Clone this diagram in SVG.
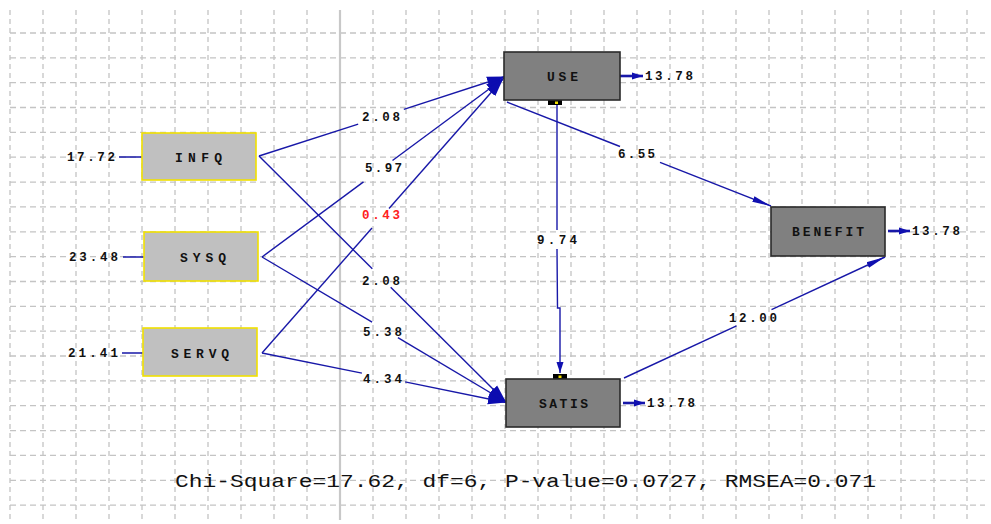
<svg xmlns="http://www.w3.org/2000/svg" width="991" height="524" viewBox="0 0 991 524">
<defs>
<style>
.gh{stroke:#c4c4c4;stroke-width:1.3;stroke-dasharray:6 4;fill:none}
.gv{stroke:#c4c4c4;stroke-width:1.3;stroke-dasharray:5 4;fill:none}
.ln{stroke:#1818a8;stroke-width:1.4;fill:none}
.er{stroke:#1818a8;stroke-width:2.6;fill:none}
.num{font-family:"Liberation Mono","DejaVu Sans Mono",monospace;font-size:12.5px;fill:#111;font-weight:bold}
.nm{font-family:"Liberation Mono","DejaVu Sans Mono",monospace;font-size:13px;font-weight:bold;fill:#111}
.ex{fill:#c0c0c0;stroke:#f0e000;stroke-width:1.6}
.en{fill:#808080;stroke:#2a2a2a;stroke-width:1.6}
</style>
<marker id="ah" markerUnits="userSpaceOnUse" markerWidth="19" markerHeight="13" refX="18" refY="6.5" orient="auto"><path d="M0,1 L18,6.5 L0,12 z" fill="#0c0cb0"/></marker>
<marker id="ah2" markerUnits="userSpaceOnUse" markerWidth="20" markerHeight="8" refX="19" refY="4" orient="auto"><path d="M0,1 L19,4 L0,7 z" fill="#1010b0"/></marker>
<marker id="ah3" markerUnits="userSpaceOnUse" markerWidth="12" markerHeight="10" refX="11" refY="5" orient="auto"><path d="M0,1.5 L11,5 L0,8.5 z" fill="#1010b0"/></marker>
</defs>
<rect width="991" height="524" fill="#ffffff"/>
<g id="grid">
<path class="gh" d="M10,33H985M10,57.8H985M10,82.7H985M10,107.5H985M10,132.4H985M10,157.2H985M10,182.1H985M10,206.9H985M10,231.8H985M10,256.6H985M10,281.5H985M10,306.3H985M10,331.2H985M10,356H985M10,380.9H985M10,405.7H985M10,430.6H985M10,455.4H985M10,480.3H985M10,505.1H985"/>
<path class="gv" d="M10,10V520M43,10V520M76,10V520M109,10V520M142,10V520M175,10V520M208,10V520M241,10V520M274,10V520M307,10V520M373,10V520M406,10V520M439,10V520M472,10V520M505,10V520M538,10V520M571,10V520M604,10V520M637,10V520M670,10V520M703,10V520M736,10V520M769,10V520M802,10V520M835,10V520M868,10V520M901,10V520M934,10V520M967,10V520"/>
<path d="M340,10V520" stroke="#c8c8c8" stroke-width="2.2" fill="none"/>
</g>
<g id="connectors">
<path class="ln" d="M259,156L358.2,124.1"/><path class="ln" d="M403.8,109.3L505,76.5" marker-end="url(#ah)"/>
<path class="ln" d="M262,257L363.5,181.9"/><path class="ln" d="M392.5,160.5L504,78" marker-end="url(#ah)"/>
<path class="ln" d="M262,353L372,228"/><path class="ln" d="M389,208.5L503,79" marker-end="url(#ah)"/>
<path class="ln" d="M259,156L372.3,268.8"/><path class="ln" d="M390.7,287.2L506,402" marker-end="url(#ah)"/>
<path class="ln" d="M262,257L372.1,322.2"/><path class="ln" d="M397.9,337.6L506,402" marker-end="url(#ah)"/>
<path class="ln" d="M262,353L361.9,373.1"/><path class="ln" d="M405.1,381.9L506,402.5" marker-end="url(#ah)"/>
<path class="ln" d="M507,102L620,146.5"/><path class="ln" d="M660,162.3L771,206" marker-end="url(#ah2)"/>
<path class="ln" d="M557,105L557,230"/><path class="ln" d="M557,249L557.5,308L560,308L560,373" marker-end="url(#ah3)"/>
<path class="ln" d="M624,378L736.5,325.8"/><path class="ln" d="M771.5,309.6L885,257" marker-end="url(#ah2)"/>
<path class="ln" d="M119,157H142M123,257H144M122,353H143"/>
<path class="er" d="M620,76H643" marker-end="url(#ah3)"/>
<path class="er" d="M888,231H910" marker-end="url(#ah3)"/>
<path class="er" d="M623,403H645" marker-end="url(#ah3)"/>
<rect x="548" y="100" width="14" height="5" fill="#000"/><rect x="555" y="101.5" width="3" height="2.5" fill="#f0e000"/>
<rect x="553" y="374" width="14" height="5" fill="#000"/><rect x="558.5" y="375.5" width="3" height="2.5" fill="#f0e000"/>
</g>
<g id="labels">
<text class="num" x="362" y="121" textLength="38">2.08</text>
<text class="num" x="365" y="172" textLength="37">5.97</text>
<text class="num" x="362" y="219" textLength="38" style="fill:#ff2020">0.43</text>
<text class="num" x="362" y="285" textLength="38">2.08</text>
<text class="num" x="363" y="336" textLength="39">5.38</text>
<text class="num" x="363" y="383" textLength="39">4.34</text>
<text class="num" x="618" y="158" textLength="37">6.55</text>
<text class="num" x="537" y="244" textLength="40">9.74</text>
<text class="num" x="729" y="322" textLength="48">12.00</text>
<text class="num" x="67" y="161" textLength="48">17.72</text>
<text class="num" x="69" y="261" textLength="49">23.48</text>
<text class="num" x="68" y="357" textLength="50">21.41</text>
<text class="num" x="645" y="80" textLength="48">13.78</text>
<text class="num" x="912" y="235" textLength="48">13.78</text>
<text class="num" x="647" y="407" textLength="48">13.78</text>
</g>
<g id="INFQ"><rect class="ex" x="142" y="133" width="114" height="47"/><text class="nm" x="175" y="162" textLength="47">INFQ</text></g>
<g id="SYSQ"><rect class="ex" x="144" y="232" width="114" height="49"/><text class="nm" x="180" y="261.5" textLength="46">SYSQ</text></g>
<g id="SERVQ"><rect class="ex" x="143" y="328" width="114" height="48"/><text class="nm" x="171" y="357.5" textLength="58">SERVQ</text></g>
<g id="USE"><rect class="en" x="504" y="52" width="116" height="48"/><text class="nm" x="547" y="81" textLength="31">USE</text></g>
<g id="BENEFIT"><rect class="en" x="771" y="207" width="114" height="49"/><text class="nm" x="792" y="236" textLength="72">BENEFIT</text></g>
<g id="SATIS"><rect class="en" x="506" y="379" width="114" height="48"/><text class="nm" x="539" y="408" textLength="49">SATIS</text></g>
<text x="175" y="487" textLength="701" lengthAdjust="spacingAndGlyphs" font-family="Liberation Mono, DejaVu Sans Mono, monospace" font-size="18" fill="#111">Chi-Square=17.62, df=6, P-value=0.0727, RMSEA=0.071</text>
</svg>
